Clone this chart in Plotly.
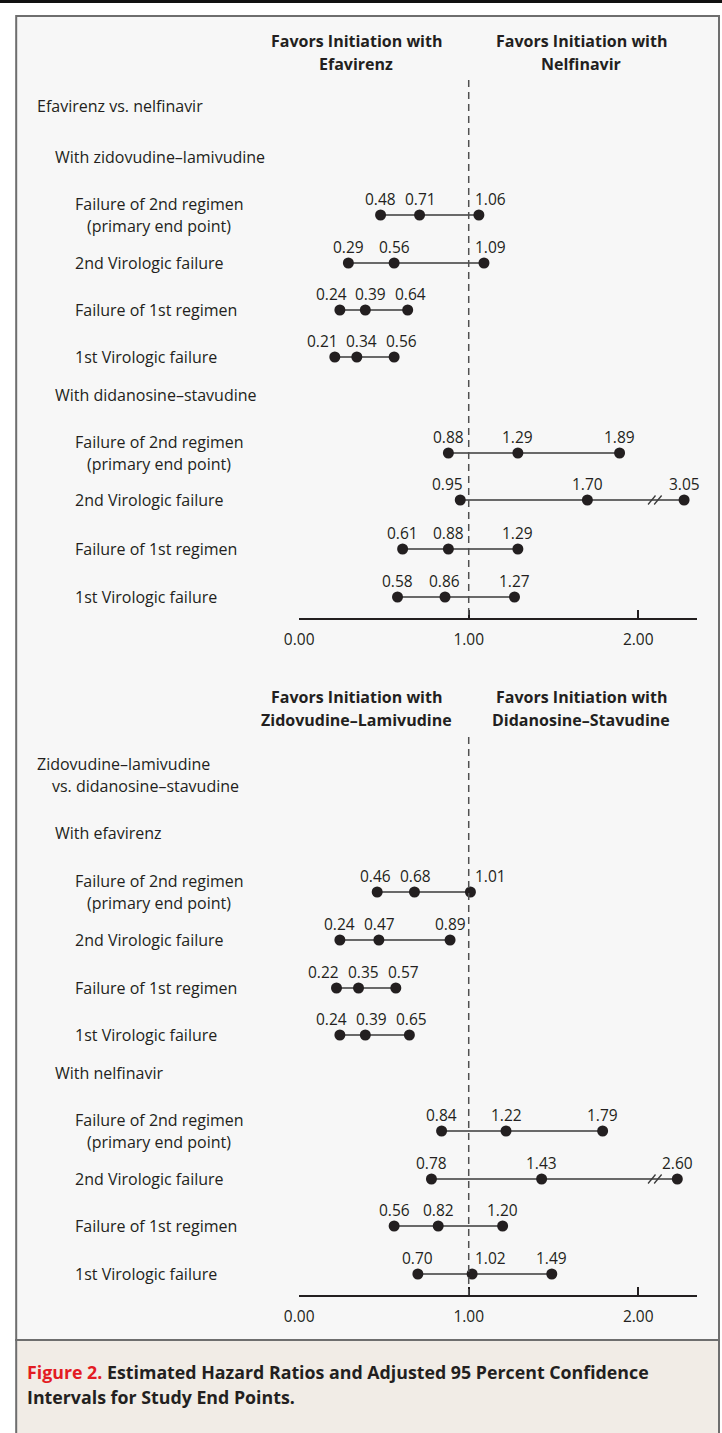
import plotly.graph_objects as go

# ---------------------------------------------------------------- data
endpoints = ["Failure of 2nd regimen", "2nd Virologic failure",
             "Failure of 1st regimen", "1st Virologic failure"]

# Efavirenz vs. nelfinavir
efv_zdv_lo = [0.48, 0.29, 0.24, 0.21]
efv_zdv_hr = [0.71, 0.56, 0.39, 0.34]
efv_zdv_hi = [1.06, 1.09, 0.64, 0.56]

efv_ddi_lo = [0.88, 0.95, 0.61, 0.58]
efv_ddi_hr = [1.29, 1.70, 0.88, 0.86]
efv_ddi_hi = [1.89, 3.05, 1.29, 1.27]

# Zidovudine-lamivudine vs. didanosine-stavudine
zdv_efv_lo = [0.46, 0.24, 0.22, 0.24]
zdv_efv_hr = [0.68, 0.47, 0.35, 0.39]
zdv_efv_hi = [1.01, 0.89, 0.57, 0.65]

zdv_nfv_lo = [0.84, 0.78, 0.56, 0.70]
zdv_nfv_hr = [1.22, 1.43, 0.82, 1.02]
zdv_nfv_hi = [1.79, 2.60, 1.20, 1.49]

tick_vals = [0, 1, 2]
tick_text = ["0.00", "1.00", "2.00"]

# ---------------------------------------------------------------- style
W, H = 722, 1433
FONT = "Open Sans"
INK = "#231f20"
LINE = "#3a3a3a"
DASH = "#505050"
FRAME_BG = "#f7f7f7"
FRAME_EDGE = "#6e6e6e"
CAPTION_BG = "#f1ece6"
RED = "#e31b23"

TXT = 16        # body text size
VAL = 15.5      # value label size
PAD = 4         # annotation box padding, trimmed from left-anchored text

# horizontal placement: page pixel -> paper fraction
PAGE_X0, PAGE_W = 13, 709

X_LEFT_PX, X_RIGHT_PX, PX_PER_UNIT = 298, 697, 170
X_MAX = (X_RIGHT_PX - X_LEFT_PX) / PX_PER_UNIT

# values past the axis break are drawn on a compressed stretch
AXIS_BREAK = 2.1
BREAK_GAP = 0.086
BREAK_SQUEEZE = 0.089

# value-label spacing, in axis units
LABEL_GAP = 40 / PX_PER_UNIT
LABEL_HALF = 16 / PX_PER_UNIT


def pos(v):
    if v <= AXIS_BREAK:
        return v
    return AXIS_BREAK + BREAK_GAP + (v - AXIS_BREAK) * BREAK_SQUEEZE


def px(x):
    return (x - PAGE_X0) / PAGE_W


def py(y):
    return 1 - y / H


def spread(xs):
    """Push value labels apart so neighbouring labels never touch."""
    p = list(xs)
    for _ in range(80):
        for i in range(len(p) - 1):
            d = p[i + 1] - p[i]
            if d < LABEL_GAP:
                s = (LABEL_GAP - d) / 2
                p[i] -= s
                p[i + 1] += s
    return p


fig = go.Figure()
annotations = []
shapes = []

# background frame and caption box
FRAME_L = max(px(9), 1.2 / PAGE_W)
shapes.append(dict(type="rect", xref="paper", yref="paper",
                   x0=FRAME_L, x1=px(719), y0=py(1340), y1=py(16),
                   fillcolor=FRAME_BG, line=dict(color=FRAME_EDGE, width=2), layer="below"))
shapes.append(dict(type="rect", xref="paper", yref="paper",
                   x0=FRAME_L, x1=px(719), y0=py(1436), y1=py(1340),
                   fillcolor=CAPTION_BG, line=dict(color=FRAME_EDGE, width=2), layer="below"))
shapes.append(dict(type="rect", xref="paper", yref="paper",
                   x0=-0.05, x1=1.05, y0=py(3), y1=1,
                   fillcolor="#111111", line=dict(width=0), layer="below"))


def text(x_px, y, s, yref, size=TXT, bold=False, anchor="left", color=INK):
    if anchor == "left":
        x_px -= PAD
    annotations.append(dict(
        x=px(x_px), xref="paper", y=y, yref=yref, text=f"<b>{s}</b>" if bold else s,
        showarrow=False, xanchor=anchor, yanchor="middle",
        font=dict(family=FONT, size=size, color=color)))


def panel(xa, ya, top, bottom, dash_top, headers, group_lines, subgroups):
    yref = ya
    (l1, l2), (r1, r2) = headers
    text(355, top + 11, l1, yref, bold=True, anchor="center")
    text(355, top + 34, l2, yref, bold=True, anchor="center")
    text(581, top + 11, r1, yref, bold=True, anchor="center")
    text(581, top + 34, r2, yref, bold=True, anchor="center")
    for (gx, gy, gs) in group_lines:
        text(gx, gy, gs, yref)
    # reference line at hazard ratio 1
    shapes.append(dict(type="line", xref=xa, yref=ya, x0=1, x1=1,
                       y0=dash_top, y1=bottom,
                       line=dict(color=DASH, width=1.5, dash="7px,5px")))
    for (title, title_y, rows, lo, hr, hi) in subgroups:
        text(55, title_y, title, yref)
        for i, ry in enumerate(rows):
            if i == 0:
                text(75, ry - 11, endpoints[0], yref)
                text(87, ry + 11, "(primary end point)", yref)
            else:
                text(75, ry, endpoints[i], yref)
            vals = [lo[i], hr[i], hi[i]]
            xs = [pos(v) for v in vals]
            fig.add_trace(go.Scatter(
                x=xs, y=[ry] * 3, xaxis=xa, yaxis=ya, mode="lines+markers",
                line=dict(color=LINE, width=1.5),
                marker=dict(color=INK, size=11),
                hoverinfo="skip", showlegend=False, cliponaxis=False))
            # value labels: spread apart, then kept clear of the dashed line
            lx = spread(xs)
            for v, xl in zip(vals, lx):
                if xl - LABEL_HALF < 1 + 2 / PX_PER_UNIT and xl + LABEL_HALF > 1 - 2 / PX_PER_UNIT:
                    if v >= 1:
                        xl = 1 + 6 / PX_PER_UNIT + LABEL_HALF
                    else:
                        xl = 1 - 5 / PX_PER_UNIT - LABEL_HALF
                annotations.append(dict(
                    x=xl, xref=xa, y=ry - 16, yref=ya, text=f"{v:.2f}",
                    showarrow=False, xanchor="center", yanchor="middle",
                    font=dict(family=FONT, size=VAL, color=INK)))
            # break marks on intervals that run past the axis
            if hi[i] > AXIS_BREAK:
                for dx in (-0.02, 0.016):
                    shapes.append(dict(type="line", xref=xa, yref=ya,
                                       x0=AXIS_BREAK + dx - 0.022, x1=AXIS_BREAK + dx + 0.022,
                                       y0=ry + 4.5, y1=ry - 4.5,
                                       line=dict(color=LINE, width=1.3)))


# top panel: efavirenz vs. nelfinavir
P1_TOP, P1_BOT = 30, 618
panel("x", "y", P1_TOP, P1_BOT, 80,
      (("Favors Initiation with", "Efavirenz"), ("Favors Initiation with", "Nelfinavir")),
      [(37, 106, "Efavirenz vs. nelfinavir")],
      [("With zidovudine\u2013lamivudine", 157, [215, 263, 310, 357],
        efv_zdv_lo, efv_zdv_hr, efv_zdv_hi),
       ("With didanosine\u2013stavudine", 395, [453, 500, 549, 597],
        efv_ddi_lo, efv_ddi_hr, efv_ddi_hi)])

# bottom panel: zidovudine-lamivudine vs. didanosine-stavudine
P2_TOP, P2_BOT = 686, 1295
panel("x2", "y2", P2_TOP, P2_BOT, 737,
      (("Favors Initiation with", "Zidovudine\u2013Lamivudine"),
       ("Favors Initiation with", "Didanosine\u2013Stavudine")),
      [(37, 764, "Zidovudine\u2013lamivudine"), (52, 786, "vs. didanosine\u2013stavudine")],
      [("With efavirenz", 833, [892, 940, 988, 1035],
        zdv_efv_lo, zdv_efv_hr, zdv_efv_hi),
       ("With nelfinavir", 1073, [1131, 1179, 1226, 1274],
        zdv_nfv_lo, zdv_nfv_hr, zdv_nfv_hi)])

# caption
annotations.append(dict(
    x=px(27 - PAD), xref="paper", y=py(1372), yref="paper", showarrow=False,
    xanchor="left", yanchor="middle",
    text=f'<b><span style="color:{RED}">Figure 2.</span> Estimated Hazard Ratios and Adjusted 95 Percent Confidence</b>',
    font=dict(family=FONT, size=17.8, color=INK)))
annotations.append(dict(
    x=px(27 - PAD), xref="paper", y=py(1397), yref="paper", showarrow=False,
    xanchor="left", yanchor="middle",
    text="<b>Intervals for Study End Points.</b>",
    font=dict(family=FONT, size=17.8, color=INK)))

xaxis_style = dict(range=[0, X_MAX], domain=[px(X_LEFT_PX), px(X_RIGHT_PX)],
                   showline=True, linecolor=INK, linewidth=1.5,
                   ticks="inside", ticklen=8, tickwidth=1.5, tickcolor=INK,
                   tickvals=tick_vals, ticktext=tick_text,
                   ticklabelstandoff=7,
                   tickfont=dict(family=FONT, size=VAL, color=INK),
                   showgrid=False, zeroline=False, fixedrange=True)

fig.update_layout(
    width=W, height=H, margin=dict(l=0, r=0, t=0, b=0),
    paper_bgcolor="white", plot_bgcolor="rgba(0,0,0,0)",
    showlegend=False,
    xaxis=dict(**xaxis_style, anchor="y"),
    xaxis2=dict(**xaxis_style, anchor="y2"),
    yaxis=dict(range=[P1_BOT, P1_TOP], domain=[py(P1_BOT), py(P1_TOP)],
               visible=False, fixedrange=True),
    yaxis2=dict(range=[P2_BOT, P2_TOP], domain=[py(P2_BOT), py(P2_TOP)],
                visible=False, fixedrange=True),
    shapes=shapes, annotations=annotations,
)

fig.write_html("out.html")
